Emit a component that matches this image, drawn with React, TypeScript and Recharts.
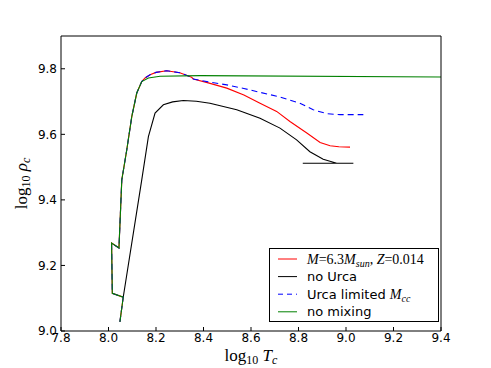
import { LineChart, Line, XAxis, YAxis, Legend, Label } from 'recharts'

// log10 Tc / log10 rho_c
const lowTrackT = [8.048, 8.062, 8.016, 8.013, 8.044, 8.056, 8.077, 8.098, 8.119, 8.14, 8.154]
const lowTrackRho = [9.028, 9.103, 9.115, 9.268, 9.253, 9.461, 9.553, 9.654, 9.726, 9.761, 9.772]

const peakT = [8.175, 8.2, 8.245, 8.3, 8.35, 8.357]
const peakRho = [9.782, 9.789, 9.794, 9.788, 9.774, 9.769]

const redTailT = [8.42, 8.498, 8.57, 8.638, 8.708, 8.764, 8.835, 8.891, 8.933, 8.97, 9.017]
const redTailRho = [9.757, 9.741, 9.72, 9.695, 9.67, 9.639, 9.604, 9.575, 9.565, 9.562, 9.561]

const blueTailT = [8.42, 8.498, 8.57, 8.638, 8.722, 8.806, 8.862, 8.919, 8.975, 9.02, 9.073]
const blueTailRho = [9.76, 9.751, 9.74, 9.728, 9.714, 9.695, 9.675, 9.663, 9.66, 9.66, 9.66]

const blackT = [8.062, 8.14, 8.168, 8.196, 8.231, 8.27, 8.315, 8.37, 8.427, 8.54, 8.638, 8.722, 8.792, 8.848, 8.904, 8.961, 9.031, 8.818]
const blackRho = [9.103, 9.461, 9.593, 9.665, 9.69, 9.699, 9.703, 9.701, 9.695, 9.675, 9.649, 9.619, 9.583, 9.547, 9.524, 9.512, 9.512, 9.512]

const greenT = [8.048, 8.062, 8.016, 8.013, 8.044, 8.056, 8.077, 8.098, 8.119, 8.14, 8.168, 8.217, 8.385, 9.4]
const greenRho = [9.028, 9.103, 9.115, 9.268, 9.253, 9.461, 9.553, 9.654, 9.726, 9.761, 9.772, 9.777, 9.779, 9.775]

const xTicks = [7.8, 8.0, 8.2, 8.4, 8.6, 8.8, 9.0, 9.2, 9.4]
const yTicks = [9.0, 9.2, 9.4, 9.6, 9.8]

const zip = (t: number[], r: number[]) => t.map((v, i) => ({ t: v, r: r[i] }))

const redData = zip([...lowTrackT, ...peakT, ...redTailT], [...lowTrackRho, ...peakRho, ...redTailRho])
const blueData = zip([...lowTrackT, ...peakT, ...blueTailT], [...lowTrackRho, ...peakRho, ...blueTailRho])
const blackData = zip(blackT, blackRho)
const greenData = zip(greenT, greenRho)

const serif = '"Liberation Serif", "DejaVu Serif", serif'
const sans = '"DejaVu Sans", sans-serif'

const XLabel = ({ viewBox }: any) => {
  const cx = viewBox.x + viewBox.width / 2
  return (
    <text x={cx} y={361} textAnchor="middle" fontFamily={serif} fontSize={17} fill="#000">
      log<tspan fontSize={12} dy={3}>10</tspan>
      <tspan dy={-3} fontStyle="italic"> T</tspan>
      <tspan fontSize={12} dy={3} fontStyle="italic">c</tspan>
    </text>
  )
}

const YLabel = ({ viewBox }: any) => {
  const cy = viewBox.y + viewBox.height / 2
  return (
    <text x={27} y={cy} textAnchor="middle" fontFamily={serif} fontSize={17} fill="#000" transform={`rotate(-90 27 ${cy})`}>
      log<tspan fontSize={12} dy={3}>10</tspan>
      <tspan dy={-3} fontStyle="italic"> ρ</tspan>
      <tspan fontSize={12} dy={3} fontStyle="italic">c</tspan>
    </text>
  )
}

const legendItems = [
  { color: '#ff0000', dash: undefined, label: 'red' },
  { color: '#000000', dash: undefined, label: 'no Urca' },
  { color: '#0000ff', dash: '5 4', label: 'blue' },
  { color: '#008000', dash: undefined, label: 'no mixing' },
]

const legendText = (label: string) => {
  if (label === 'red')
    return (
      <>
        <tspan fontFamily={serif} fontSize={14} fontStyle="italic">M</tspan>
        <tspan fontFamily={serif} fontSize={14}>=6.3</tspan>
        <tspan fontFamily={serif} fontSize={14} fontStyle="italic">M</tspan>
        <tspan fontFamily={serif} fontStyle="italic" fontSize={10} dy={3}>sun</tspan>
        <tspan fontFamily={serif} fontSize={14} dy={-3}>, </tspan>
        <tspan fontFamily={serif} fontSize={14} fontStyle="italic">Z</tspan>
        <tspan fontFamily={serif} fontSize={14}>=0.014</tspan>
      </>
    )
  if (label === 'blue')
    return (
      <>
        <tspan>Urca limited </tspan>
        <tspan fontFamily={serif} fontSize={14} fontStyle="italic">M</tspan>
        <tspan fontFamily={serif} fontStyle="italic" fontSize={10} dy={3}>cc</tspan>
      </>
    )
  return label
}

const LegendBox = () => (
  <svg width={170} height={74} style={{ display: 'block' }}>
    <rect x={0.5} y={0.5} width={169} height={73} fill="#fff" stroke="#000" strokeWidth={1} />
    {legendItems.map((it, i) => {
      const y = 11 + i * 17.6
      return (
        <g key={i}>
          <line x1={9} x2={28} y1={y} y2={y} stroke={it.color} strokeWidth={1} strokeDasharray={it.dash} />
          <text x={38} y={y + 4.5} fontFamily={sans} fontSize={13} fill="#000">
            {legendText(it.label)}
          </text>
        </g>
      )
    })}
  </svg>
)

export default function App() {
  return (
    <div style={{ position: 'absolute', left: 0, top: 0, width: 491, height: 368, background: '#fff' }}>
      <LineChart width={491} height={368} margin={{ top: 35, right: 49, bottom: 0, left: 0 }}>
        <XAxis
          xAxisId="b"
          type="number"
          dataKey="t"
          domain={[7.8, 9.4]}
          ticks={xTicks}
          tickFormatter={(v: number) => v.toFixed(1)}
          allowDataOverflow
          height={37}
          stroke="#000"
          tickSize={-4}
          tickMargin={6}
          tick={{ fill: '#000', fontSize: 12, fontFamily: sans }}
        >
          <Label content={<XLabel />} />
        </XAxis>
        <XAxis
          xAxisId="t"
          orientation="top"
          type="number"
          dataKey="t"
          domain={[7.8, 9.4]}
          ticks={xTicks}
          allowDataOverflow
          height={1}
          stroke="#000"
          tickSize={-4}
          tick={false}
        />
        <YAxis
          yAxisId="l"
          type="number"
          dataKey="r"
          domain={[9.0, 9.9]}
          ticks={yTicks}
          tickFormatter={(v: number) => v.toFixed(1)}
          allowDataOverflow
          width={61}
          stroke="#000"
          tickSize={-4}
          tickMargin={8}
          tick={{ fill: '#000', fontSize: 12, fontFamily: sans }}
        >
          <Label content={<YLabel />} />
        </YAxis>
        <YAxis
          yAxisId="r"
          orientation="right"
          type="number"
          dataKey="r"
          domain={[9.0, 9.9]}
          ticks={yTicks}
          allowDataOverflow
          width={1}
          stroke="#000"
          tickSize={-4}
          tick={false}
        />
        <Line xAxisId="t" yAxisId="r" data={greenData} dataKey="r" stroke="none" legendType="none" dot={false} activeDot={false} isAnimationActive={false} />
        <Line xAxisId="b" yAxisId="l" data={redData} dataKey="r" stroke="#ff0000" strokeWidth={1.1} dot={false} isAnimationActive={false} />
        <Line xAxisId="b" yAxisId="l" data={blackData} dataKey="r" stroke="#000000" strokeWidth={1.1} dot={false} isAnimationActive={false} />
        <Line xAxisId="b" yAxisId="l" data={blueData} dataKey="r" stroke="#0000ff" strokeWidth={1.1} strokeDasharray="6 4" dot={false} isAnimationActive={false} />
        <Line xAxisId="b" yAxisId="l" data={greenData} dataKey="r" stroke="#008000" strokeWidth={1.1} dot={false} isAnimationActive={false} />
        <Legend
          layout="vertical"
          align="center"
          verticalAlign="middle"
          content={<LegendBox />}
          wrapperStyle={{ position: 'absolute', left: 269, top: 248, width: 170, height: 74 }}
        />
      </LineChart>
    </div>
  )
}
